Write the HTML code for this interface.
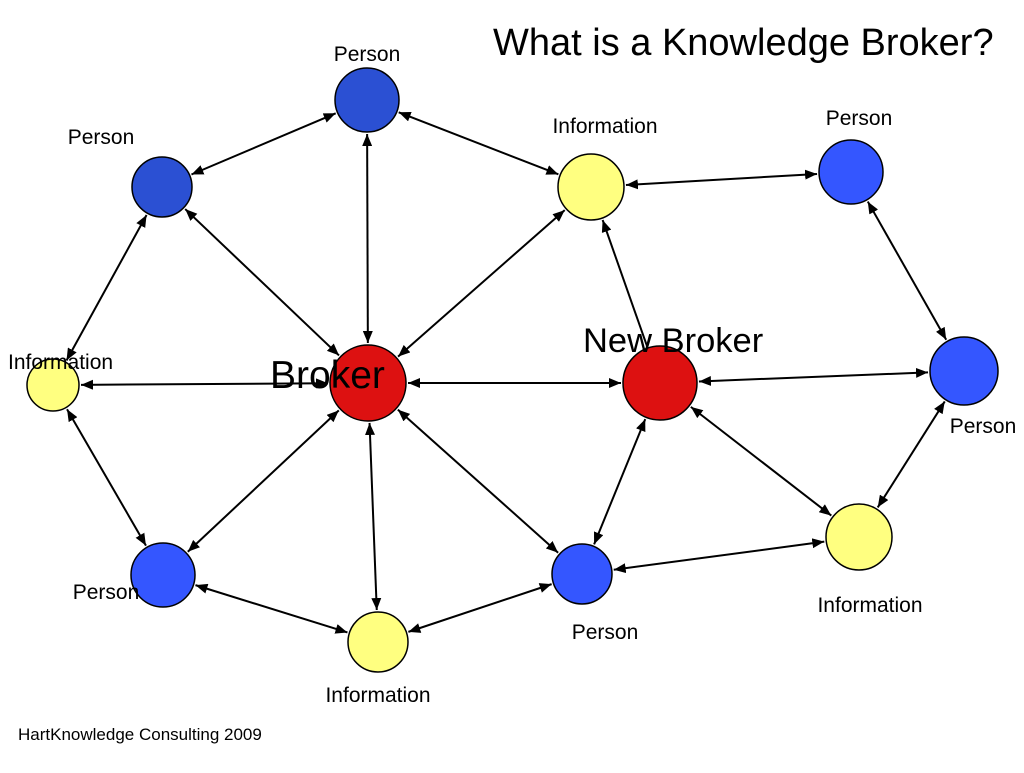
<!DOCTYPE html>
<html><head><meta charset="utf-8"><style>
html,body{margin:0;padding:0;background:#fff;}
svg text{font-family:"Liberation Sans",sans-serif;fill:#000;}
</style></head><body>
<svg id="s" width="1024" height="768" xmlns="http://www.w3.org/2000/svg">
<defs><marker id="a" viewBox="0 0 10 10" refX="10" refY="5" markerWidth="12" markerHeight="10" orient="auto-start-reverse" markerUnits="userSpaceOnUse" preserveAspectRatio="none"><path d="M0,0 L10,5 L0,10 z" fill="#000"/></marker></defs>
<g id="lines" stroke="#000" stroke-width="2" fill="none"></g>
<g id="nodes" stroke="#000" stroke-width="1.5"></g>
<text x="493" y="55" font-size="38">What is a Knowledge Broker?</text>
<text x="367" y="61" font-size="21" text-anchor="middle">Person</text>
<text x="101" y="144" font-size="21" text-anchor="middle">Person</text>
<text x="605" y="133" font-size="21" text-anchor="middle">Information</text>
<text x="859" y="125" font-size="21" text-anchor="middle">Person</text>
<text x="8" y="369" font-size="21">Information</text>
<text x="983" y="433" font-size="21" text-anchor="middle">Person</text>
<text x="106" y="599" font-size="21" text-anchor="middle">Person</text>
<text x="378" y="702" font-size="21" text-anchor="middle">Information</text>
<text x="605" y="639" font-size="21" text-anchor="middle">Person</text>
<text x="870" y="612" font-size="21" text-anchor="middle">Information</text>
<text x="270" y="388" font-size="39">Broker</text>
<text x="583" y="352" font-size="34.5">New Broker</text>
<text x="18" y="740" font-size="17">HartKnowledge Consulting 2009</text>
</svg>
<script>
var N={
pt:[367,100,32,'#2b50d3'],pl:[162,187,30,'#2b50d3'],it:[591,187,33,'#ffff80'],pr:[851,172,32,'#3456ff'],
il:[53,385,26,'#ffff80'],b:[368,383,38,'#dd1111'],nb:[660,383,37,'#dd1111'],prr:[964,371,34,'#3456ff'],
pbl:[163,575,32,'#3456ff'],ib:[378,642,30,'#ffff80'],pb:[582,574,30,'#3456ff'],ibr:[859,537,33,'#ffff80']};
var E=[['pt','pl',2],['pt','b',2],['pt','it',2],['pl','b',2],['pl','il',2],['it','b',2],['it','pr',2],['nb','it',1],
['pr','prr',2],['il','b',2],['b','nb',2],['nb','prr',2],['il','pbl',2],['b','pbl',2],['b','ib',2],['b','pb',2],
['nb','pb',2],['nb','ibr',2],['prr','ibr',2],['pbl','ib',2],['ib','pb',2],['pb','ibr',2]];
var ns='http://www.w3.org/2000/svg',L=document.getElementById('lines'),G=document.getElementById('nodes');
E.forEach(function(e){var A=N[e[0]],B=N[e[1]],dx=B[0]-A[0],dy=B[1]-A[1],d=Math.hypot(dx,dy),ux=dx/d,uy=dy/d;
var l=document.createElementNS(ns,'line');
l.setAttribute('x1',A[0]+ux*(A[2]+2));l.setAttribute('y1',A[1]+uy*(A[2]+2));
l.setAttribute('x2',B[0]-ux*(B[2]+2));l.setAttribute('y2',B[1]-uy*(B[2]+2));
l.setAttribute('marker-end','url(#a)');if(e[2]==2)l.setAttribute('marker-start','url(#a)');L.appendChild(l);});
for(var k in N){var n=N[k],c=document.createElementNS(ns,'circle');c.setAttribute('cx',n[0]);c.setAttribute('cy',n[1]);c.setAttribute('r',n[2]);c.setAttribute('fill',n[3]);G.appendChild(c);}
</script>
</body></html>
